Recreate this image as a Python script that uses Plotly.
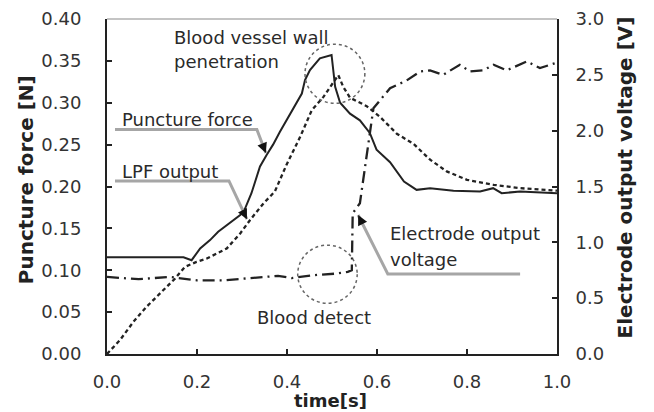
import plotly.graph_objects as go

# ---- data ----
force_t = [0.0, 0.17, 0.188, 0.207, 0.229, 0.247, 0.296, 0.307, 0.321, 0.34, 0.355, 0.369,
           0.384, 0.41, 0.433, 0.44, 0.451, 0.473, 0.499, 0.507, 0.518, 0.54, 0.562, 0.584, 0.599,
           0.629, 0.644, 0.66, 0.688, 0.718, 0.77, 0.829, 0.858, 0.877, 0.918, 0.955, 1.0]
force_v = [0.1155, 0.1155, 0.112, 0.126, 0.136, 0.146, 0.166, 0.174, 0.192, 0.224, 0.238, 0.250,
           0.265, 0.289, 0.311, 0.327, 0.339, 0.353, 0.357, 0.319, 0.300, 0.287, 0.279, 0.264, 0.244,
           0.229, 0.218, 0.206, 0.196, 0.198, 0.195, 0.194, 0.198, 0.192, 0.194, 0.193, 0.192]

lpf_t = [0.0, 0.029, 0.059, 0.088, 0.104, 0.133, 0.151, 0.173, 0.199, 0.222, 0.266, 0.296,
         0.318, 0.348, 0.373, 0.399, 0.429, 0.455, 0.481, 0.514, 0.525, 0.54, 0.577, 0.607,
         0.644, 0.681, 0.718, 0.755, 0.8, 0.859, 0.918, 1.0]
lpf_v = [0.0, 0.0167, 0.0386, 0.0565, 0.065, 0.080, 0.090, 0.104, 0.110, 0.114, 0.126, 0.144,
         0.160, 0.180, 0.194, 0.226, 0.259, 0.291, 0.307, 0.333, 0.319, 0.306, 0.296, 0.283,
         0.263, 0.251, 0.232, 0.218, 0.208, 0.202, 0.198, 0.195]

volt_t = [0.0, 0.07, 0.14, 0.2, 0.26, 0.32, 0.38, 0.41, 0.456, 0.51, 0.535, 0.544,
          0.546, 0.562, 0.569, 0.577, 0.584, 0.592, 0.629, 0.666, 0.696,
          0.718, 0.747, 0.784, 0.807, 0.836, 0.859, 0.888, 0.933, 0.962, 1.0]
volt_v = [0.69, 0.67, 0.69, 0.66, 0.66, 0.68, 0.70, 0.68, 0.705, 0.72, 0.735, 0.75,
          1.26, 1.35, 1.55, 1.77, 2.0, 2.2, 2.38, 2.45, 2.53,
          2.54, 2.50, 2.59, 2.53, 2.54, 2.59, 2.54, 2.62, 2.56, 2.61]

x_ticks = [0.0, 0.2, 0.4, 0.6, 0.8, 1.0]
y1_ticks = [0.0, 0.05, 0.10, 0.15, 0.20, 0.25, 0.30, 0.35, 0.40]
y2_ticks = [0.0, 0.5, 1.0, 1.5, 2.0, 2.5, 3.0]

FONT = "DejaVu Sans"
TXT = "#2a2a2a"
GREY = "#a6a6a6"

fig = go.Figure()
fig.add_trace(go.Scatter(x=force_t, y=force_v, mode="lines", name="Puncture force",
                         line=dict(color="#222222", width=2)))
fig.add_trace(go.Scatter(x=lpf_t, y=lpf_v, mode="lines", name="LPF output",
                         line=dict(color="#222222", width=2.3, dash="4px,3px")))
fig.add_trace(go.Scatter(x=volt_t, y=volt_v, mode="lines", name="Electrode output voltage",
                         yaxis="y2", line=dict(color="#222222", width=2.3, dash="12px,5px,2px,5px")))

axis_common = dict(showgrid=False, zeroline=False, showline=True, linecolor="#222222",
                   linewidth=2, ticks="inside", ticklen=5, tickwidth=2, tickcolor="#222222",
                   automargin=False,
                   tickfont=dict(family=FONT, size=18, color="#333333"))

# the page body has an 8px default margin, so the figure is 8px smaller than the window
fig.update_layout(
    width=646, height=404,
    margin=dict(l=99, r=97, t=11, b=58, autoexpand=False),
    paper_bgcolor="white", plot_bgcolor="white",
    showlegend=False,
    xaxis=dict(range=[0, 1], tickvals=x_ticks, ticktext=[f"{v:.1f}" for v in x_ticks],
               ticklabelstandoff=10, **axis_common),
    yaxis=dict(range=[0, 0.4], tickvals=y1_ticks, ticktext=[f"{v:.2f}" for v in y1_ticks],
               ticklabelstandoff=20, **axis_common),
    yaxis2=dict(range=[0, 3], tickvals=y2_ticks, ticktext=[f"{v:.1f}" for v in y2_ticks],
                overlaying="y", side="right", ticklabelstandoff=13, **axis_common),
)

# axis titles
TITLE_FONT = dict(family=FONT, size=20, color="#222222")
fig.add_annotation(text="<b>time[s]</b>", xref="paper", yref="paper", x=0.496, y=0,
                   yshift=-46, xanchor="center", yanchor="middle", showarrow=False,
                   borderpad=0, font=dict(family=FONT, size=18, color="#222222"))
fig.add_annotation(text="<b>Puncture force [N]</b>", xref="paper", yref="paper", x=0, y=0.519,
                   xshift=-81, xanchor="center", yanchor="middle", textangle=-90,
                   showarrow=False, font=TITLE_FONT)
fig.add_annotation(text="<b>Electrode output voltage [V]</b>", xref="paper", yref="paper",
                   x=1, y=0.527, xshift=68, xanchor="center", yanchor="middle", textangle=-90,
                   showarrow=False, font=TITLE_FONT)

# top frame line (thin grey)
fig.add_shape(type="line", xref="paper", yref="paper", x0=0, x1=1, y0=1, y1=1,
              line=dict(color="#b0b0b0", width=1.5))

# dotted circles
fig.add_shape(type="circle", xref="x", yref="y", x0=0.44, x1=0.573, y0=0.2993, y1=0.370,
              line=dict(color="#666666", width=1.5, dash="dot"))
fig.add_shape(type="circle", xref="x", yref="y", x0=0.4238, x1=0.556, y0=0.0605, y1=0.130,
              line=dict(color="#666666", width=1.5, dash="dot"))

# callout lines (grey polylines)
fig.add_shape(type="path", xref="x", yref="y",
              path="M 0.0178 0.268 L 0.333 0.268 L 0.353 0.240",
              line=dict(color=GREY, width=3))
fig.add_shape(type="path", xref="x", yref="y",
              path="M 0.0178 0.2066 L 0.271 0.2066 L 0.311 0.161",
              line=dict(color=GREY, width=3))
fig.add_shape(type="path", xref="x", yref="y",
              path="M 0.918 0.0955 L 0.624 0.0955 L 0.558 0.166",
              line=dict(color=GREY, width=3))

# arrowheads
for (x, y, ax, ay) in [(0.353, 0.240, -4, -10), (0.311, 0.161, -5, -10), (0.558, 0.166, 5, 10)]:
    fig.add_annotation(x=x, y=y, xref="x", yref="y", ax=ax, ay=ay, text="",
                       showarrow=True, arrowhead=2, arrowsize=1, arrowwidth=2,
                       arrowcolor="#111111", standoff=0)

# text labels
labels = [
    ("Blood vessel wall", 0.144, 0.3785),
    ("penetration", 0.144, 0.3487),
    ("Puncture force", 0.029, 0.2806),
    ("LPF output", 0.029, 0.2185),
    ("Electrode output", 0.624, 0.1433),
    ("voltage", 0.624, 0.1130),
    ("Blood detect", 0.329, 0.043),
]
for text, x, y in labels:
    fig.add_annotation(x=x, y=y, xref="x", yref="y", text=text, showarrow=False,
                       xanchor="left", yanchor="middle",
                       font=dict(family=FONT, size=18, color=TXT))

fig.write_html("out.html")
